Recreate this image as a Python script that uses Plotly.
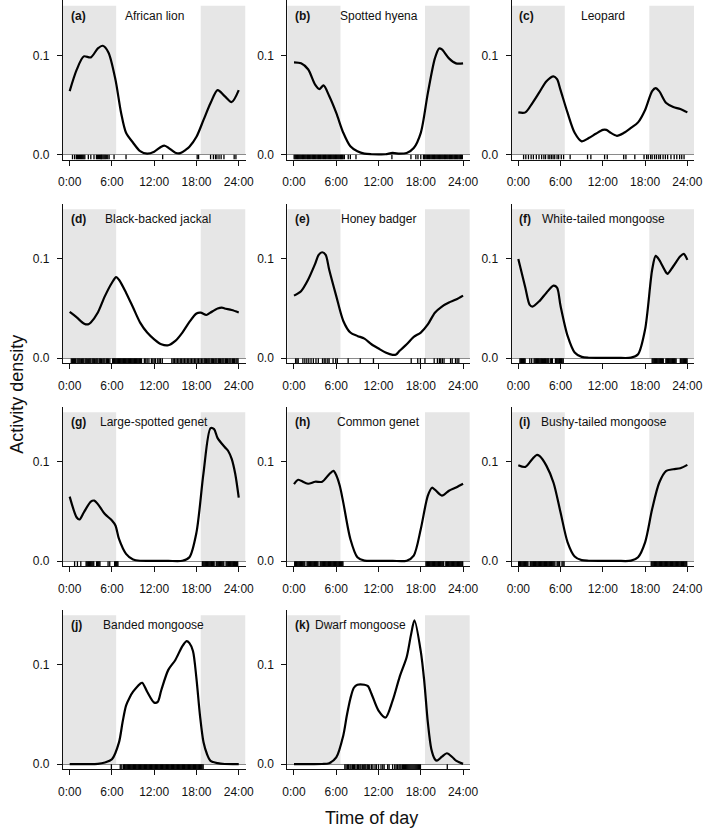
import plotly.graph_objects as go

# ---------------- data ----------------
letters = ["a", "b", "c", "d", "e", "f", "g", "h", "i", "j", "k"]
species = ["African lion", "Spotted hyena", "Leopard", "Black-backed jackal",
           "Honey badger", "White-tailed mongoose", "Large-spotted genet",
           "Common genet", "Bushy-tailed mongoose", "Banded mongoose",
           "Dwarf mongoose"]
label_pos = [12, 12, 12, 12.5, 12, 12.1, 12, 12, 12.1, 11.9, 9.45]

hour_ticks = [0, 6, 12, 18, 24]
hour_labels = ["0:00", "6:00", "12:00", "18:00", "24:00"]
y_ticks = [0, 0.1]
y_labels = ["0.0", "0.1"]
night_end = 6.6
night_start = 18.6

a_x = [0, 1, 2, 3, 4, 4.7, 5.5, 6.5, 7.3, 8, 9, 10, 11, 12, 13, 13.5, 14, 15, 15.7, 16.5, 17, 18, 19, 20, 21, 22, 23, 24]
a_y = [.064, .0856, .099, .098, .107, .1097, .103, .0755, .042, .022, .012, .0035, .001, .003, .008, .009, .007, .002, .0015, .005, .008, .018, .035, .052, .065, .059, .053, .065]

b_x = [0, 1, 2, 3, 3.6, 4.2, 5, 6, 7, 8, 9, 10, 11, 12, 13, 14, 15, 16, 17, 18, 19, 20, 20.6, 21, 22, 23, 24]
b_y = [.093, .092, .086, .0705, .066, .0698, .059, .042, .022, .0084, .0034, .001, .0004, .0003, .0004, .0017, .001, .0017, .0067, .022, .062, .097, .107, .106, .097, .092, .092]

c_x = [0, 1, 2, 3, 4, 5, 5.5, 6, 7, 8, 9, 10, 11, 12, 12.5, 13, 14, 15, 16, 17, 18, 19, 19.5, 20, 21, 22, 23, 24]
c_y = [.0426, .0426, .052, .063, .074, .0789, .076, .065, .042, .022, .0134, .0168, .021, .025, .025, .0225, .019, .022, .027, .0325, .045, .064, .067, .064, .052, .048, .046, .0426]

d_x = [0, 1, 2, 2.6, 3, 4, 5, 6, 6.6, 7, 8, 9, 10, 11, 12, 13, 14, 15, 16, 17, 18, 18.6, 19.4, 20, 21, 21.6, 22, 23, 24]
d_y = [.0465, .041, .035, .034, .036, .046, .0625, .076, .0816, .079, .066, .051, .0358, .0258, .019, .014, .013, .0174, .0258, .0365, .045, .0458, .0435, .046, .050, .051, .050, .0485, .046]

e_x = [0, 1, 2, 3, 3.5, 4, 4.5, 5, 6, 7, 8, 9, 10, 11, 12, 13, 14, 14.5, 15, 16, 17, 18, 19, 20, 21, 22, 23, 24]
e_y = [.063, .0675, .079, .095, .104, .1067, .104, .089, .0625, .0375, .0258, .0224, .0197, .014, .0097, .0057, .0033, .0037, .0074, .014, .0214, .0258, .034, .0458, .052, .056, .059, .063]

f_x = [0, 1, 1.6, 2, 3, 4, 5, 5.5, 6, 7, 8, 9, 10, 12, 14, 16, 17, 18, 19, 19.5, 20, 21, 21.2, 22, 23, 23.5, 24]
f_y = [.1, .071, .054, .052, .0575, .066, .073, .071, .0525, .0224, .0057, .0013, .0004, .0003, .0003, .0005, .004, .029, .089, .103, .099, .086, .085, .0926, .1027, .105, .099]

g_x = [0, 1, 1.4, 2, 3, 3.5, 4, 5, 6, 6.5, 7, 8, 9, 10, 12, 14, 16, 17, 18, 19, 20, 20.5, 21, 22, 22.5, 23, 23.5, 24]
g_y = [.065, .044, .042, .049, .06, .061, .0575, .0475, .041, .036, .0224, .0074, .0017, .0004, .0003, .0003, .0004, .004, .029, .089, .134, .133, .124, .115, .111, .103, .088, .064]

h_x = [0, 0.6, 1, 2, 3, 4, 5, 5.6, 6, 6.5, 7, 8, 9, 10, 12, 14, 16, 17, 18, 19, 19.6, 20, 21, 22, 23, 24]
h_y = [.0776, .082, .081, .078, .08, .08, .0876, .091, .0866, .076, .059, .0224, .004, .0006, .0003, .0003, .0005, .0057, .0324, .066, .074, .072, .066, .071, .0742, .078]

i_x = [0, 1, 2, 2.6, 3, 4, 5, 6, 7, 8, 9, 10, 12, 14, 16, 17, 18, 19, 20, 21, 22, 23, 24]
i_y = [.0967, .095, .103, .107, .106, .096, .079, .049, .019, .0047, .001, .0004, .0003, .0003, .0005, .004, .019, .0525, .079, .091, .0926, .0936, .097]

j_x = [0, 2, 4, 5, 6, 7, 7.5, 8, 8.5, 9, 10, 10.3, 11, 12, 12.5, 13, 14, 15, 16, 16.6, 17, 17.5, 18, 18.5, 19, 19.5, 20, 21, 22, 24]
j_y = [.0001, .0001, .0003, .0017, .005, .022, .042, .059, .067, .073, .081, .082, .073, .062, .0627, .0745, .095, .105, .119, .124, .122, .114, .086, .049, .022, .01, .0034, .001, .0002, .0001]

k_x = [0, 2, 4, 5, 6, 7, 7.5, 8, 8.5, 9, 10, 10.5, 11, 12, 13, 14, 15, 16, 16.6, 17.1, 18, 18.5, 19, 19.5, 20, 20.3, 21, 21.7, 22.5, 23, 24]
k_y = [.0001, .0001, .0002, .001, .0068, .029, .049, .066, .077, .08, .08, .0786, .071, .054, .047, .064, .088, .108, .13, .145, .1136, .083, .042, .015, .005, .0035, .0075, .011, .007, .0035, .0003]

a_rug = [0.4, 0.7, 0.95, 1.1, 1.25, 1.4, 1.55, 1.7, 1.85, 2.0, 2.15, 2.65, 3.0, 3.45, 3.8, 3.95, 4.1, 4.25, 4.4, 4.5, 4.6, 4.75, 4.9, 5.05, 5.2, 5.4, 5.6, 6.3, 8.0, 13.2, 18.1, 18.3, 20.0, 20.4, 20.7, 20.9, 21.2, 21.5, 21.9, 23.35, 23.6]
b_rug = [0.02, 0.14, 0.25, 0.38, 0.5, 0.61, 0.74, 0.86, 0.97, 1.1, 1.22, 1.33, 1.46, 1.58, 1.69, 1.82, 1.94, 2.05, 2.18, 2.3, 2.41, 2.54, 2.66, 2.77, 2.9, 3.02, 3.13, 3.26, 3.38, 3.49, 3.62, 3.74, 3.85, 3.98, 4.1, 4.21, 4.34, 4.46, 4.57, 4.7, 4.82, 4.93, 5.06, 5.18, 5.29, 5.42, 5.54, 5.65, 5.78, 5.9, 6.01, 6.14, 6.26, 6.37, 6.5, 6.62, 6.73, 6.86, 6.98, 7.15,
         7.7, 8.0, 8.8, 13.9, 16.6, 17.3, 17.6, 18.0,
         18.38, 18.5, 18.61, 18.74, 18.86, 18.97, 19.1, 19.22, 19.33, 19.46, 19.58, 19.69, 19.82, 19.94, 20.05, 20.18, 20.3, 20.41, 20.54, 20.66, 20.77, 20.9, 21.02, 21.13, 21.26, 21.38, 21.49, 21.62, 21.74, 21.85, 21.98, 22.1, 22.21, 22.34, 22.46, 22.57, 22.7, 22.82, 22.93, 23.06, 23.18, 23.29, 23.42, 23.54, 23.65, 23.78, 23.9]
c_rug = [0.75, 1.07, 1.44, 1.82, 2.14, 2.56, 2.94, 3.31, 3.63, 3.87, 4.24, 4.47, 4.71, 4.94, 5.17, 5.5, 5.73, 6.1, 6.43, 7.36, 9.83, 10.3, 12.25, 12.63, 14.96, 15.28, 16.54, 17.85, 18.22, 18.45, 18.78, 19.0, 19.34, 19.62, 19.94, 20.18, 20.55, 20.88, 21.2, 21.67, 22.13, 22.5, 22.9, 23.2, 23.53]
d_rug = [0.23, 0.4, 0.55, 0.7, 0.85, 1.05, 1.2, 1.35, 1.5, 1.7, 1.85, 2.0, 2.2, 2.35, 2.5, 2.7, 2.85, 3.0, 3.2, 3.35, 3.5, 3.7, 3.85, 4.0, 4.2, 4.35, 4.5, 4.7, 4.85, 5.0, 5.2, 5.35, 5.5, 5.7,
         6.1, 6.22, 6.34, 6.46, 6.58, 6.7, 6.82, 6.94, 7.06, 7.18, 7.3, 7.42, 7.54, 7.66, 7.78, 7.9, 8.02, 8.14, 8.26, 8.38, 8.5, 8.62, 8.74, 8.86, 8.98, 9.1, 9.22, 9.34, 9.46, 9.58, 9.7, 9.82, 9.94, 10.06, 10.2,
         10.6, 10.8, 11.0, 11.25, 11.6, 11.8, 12.0, 12.2, 12.5, 12.7, 12.9, 13.15,
         14.5, 14.7, 14.9, 15.1, 15.3, 15.5, 15.7, 15.9, 16.1, 16.3, 16.5, 16.7, 16.9, 17.1, 17.3, 17.5, 17.7, 17.9, 18.1, 18.3, 18.5, 18.7, 18.9, 19.1, 19.25, 19.4, 19.6, 19.75, 19.9, 20.1, 20.25, 20.4, 20.6, 20.75, 20.9, 21.1, 21.25, 21.4, 21.6, 21.75, 21.9, 22.1, 22.25, 22.4, 22.6, 22.75, 22.9, 23.1, 23.25, 23.4, 23.6, 23.75, 23.9]
e_rug = [0.23, 0.42, 0.6, 1.26, 1.54, 1.82, 2.1, 2.42, 2.75, 3.12, 3.45, 4.05, 4.29, 4.52, 4.8, 4.99, 5.55, 5.92, 6.15, 7.69, 9.41, 11.28, 16.64, 17.57, 17.94, 18.59, 19.9, 20.36, 20.64, 20.83, 21.06, 21.3, 22.23, 22.46, 22.93, 23.16, 23.4]
f_rug = [0.23, 0.35, 0.47, 0.6, 0.72, 0.85, 0.97, 1.63, 1.9, 2.24, 2.36, 2.48, 2.6, 2.72, 2.84, 2.96, 3.08, 3.2, 3.32, 3.44, 3.6, 3.72, 3.84, 3.96, 4.1, 4.22, 4.34, 4.6, 4.72, 4.84, 5.27, 5.39, 5.51, 5.63, 5.75, 5.87, 5.99, 6.11, 6.23, 6.38,
         19.0, 19.12, 19.24, 19.36, 19.48, 19.6, 19.72, 19.84, 19.96, 20.08, 20.2, 20.32, 20.45, 20.58, 20.95, 21.07, 21.19, 21.31, 21.43, 21.55, 21.67, 21.79, 21.91, 22.03, 22.15, 22.27, 22.4, 23.0, 23.12, 23.24, 23.36, 23.48, 23.6, 23.72, 23.84, 23.96]
g_rug = [0.7, 1.1, 1.58, 2.33, 2.45, 2.57, 2.69, 2.81, 2.93, 3.05, 3.17, 3.3, 3.42, 3.82, 3.94, 4.06, 4.18, 4.3, 5.45, 5.69, 6.38, 6.5, 6.62, 6.74, 6.85,
         18.83, 18.95, 19.07, 19.19, 19.31, 19.43, 19.55, 19.67, 19.79, 19.91, 20.03, 20.15, 20.27, 20.39, 20.51, 20.8, 20.92, 21.04, 21.16, 21.28, 21.4, 21.52, 21.64, 21.76, 21.88, 22.2, 22.32, 22.44, 22.56, 22.68, 22.8, 22.92, 23.04, 23.16, 23.28, 23.4, 23.52, 23.7, 23.85]
h_rug = [0.1, 0.22, 0.34, 0.46, 0.58, 0.7, 0.82, 0.94, 1.06, 1.18, 1.3, 1.42, 1.54, 1.85, 1.97, 2.09, 2.21, 2.33, 2.45, 2.57, 2.69, 2.81, 2.93, 3.05, 3.17, 3.29, 3.41, 3.72, 3.84, 3.96, 4.08, 4.2, 4.32, 4.44, 4.56, 4.68, 4.8, 4.92, 5.04, 5.16, 5.28, 5.4, 5.52, 5.64, 5.76, 5.88, 6.0, 6.12, 6.24, 6.36, 6.48, 6.6, 6.72, 6.84, 6.95,
         18.73, 18.85, 18.97, 19.09, 19.21, 19.33, 19.45, 19.57, 19.69, 19.81, 19.93, 20.05, 20.17, 20.29, 20.41, 20.53, 20.65, 20.77, 20.89, 21.01, 21.13, 21.25, 21.55, 21.67, 21.79, 21.91, 22.03, 22.15, 22.27, 22.39, 22.51, 22.63, 22.75, 22.87, 22.99, 23.11, 23.23, 23.35, 23.47, 23.59, 23.71, 23.83, 23.95]
i_rug = [0.05, 0.17, 0.29, 0.41, 0.53, 0.65, 0.77, 0.89, 1.01, 1.13, 1.25, 1.37, 1.7, 1.82, 1.94, 2.06, 2.18, 2.3, 2.42, 2.54, 2.66, 2.78, 2.9, 3.02, 3.14, 3.26, 3.38, 3.5, 3.62, 3.74, 3.86, 3.98, 4.1, 4.22, 4.34, 4.46, 4.58, 4.7, 4.82, 4.94, 5.06, 5.2, 5.5, 5.62, 5.75, 5.87, 6.2, 6.35, 6.5,
         18.87, 18.99, 19.11, 19.23, 19.35, 19.47, 19.59, 19.71, 19.83, 19.95, 20.07, 20.19, 20.31, 20.43, 20.55, 20.67, 20.79, 20.91, 21.03, 21.15, 21.27, 21.39, 21.51, 21.63, 21.75, 21.87, 21.99, 22.11, 22.23, 22.35, 22.47, 22.59, 22.71, 22.83, 22.95, 23.07, 23.19, 23.31, 23.43, 23.55, 23.67, 23.79, 23.91]
j_rug = [5.92, 7.18, 7.4, 7.64, 7.76, 7.88, 8.0, 8.12, 8.24, 8.36, 8.48, 8.6, 8.72, 8.84, 8.96, 9.08, 9.2, 9.32, 9.44, 9.56, 9.68, 9.8, 9.92, 10.04, 10.16, 10.28, 10.4, 10.52, 10.64, 10.76, 10.88, 11.0, 11.12, 11.24, 11.36, 11.48, 11.6, 11.72, 11.84, 11.96, 12.08, 12.2, 12.32, 12.44, 12.56, 12.68, 12.8, 12.92, 13.04, 13.16, 13.28, 13.4, 13.52, 13.64, 13.76, 13.88, 14.0, 14.12, 14.24, 14.36, 14.48, 14.6, 14.72, 14.84, 14.96, 15.08, 15.2, 15.32, 15.44, 15.56, 15.68, 15.8, 15.92, 16.04, 16.16, 16.28, 16.4, 16.52, 16.64, 16.76, 16.88, 17.0, 17.12, 17.24, 17.36, 17.48, 17.6, 17.72, 17.84, 17.96, 18.08, 18.2, 18.32, 18.44, 18.56, 18.68, 18.8, 18.95]
k_rug = [7.22, 7.4, 7.6, 7.75, 7.95, 8.1, 8.3, 8.45, 8.6, 8.8, 9.0, 9.15, 9.35, 9.5, 9.7, 9.9, 10.05, 10.2, 10.4, 10.55, 10.75, 11.0, 11.2, 11.5, 11.7, 12.0, 12.35, 12.6, 12.8, 13.3, 13.5, 14.0, 14.3, 14.5, 14.7, 14.9, 15.05, 15.2, 15.4, 15.55, 15.7, 15.85, 16.0, 16.15, 16.3, 16.45, 16.6, 16.75, 16.9, 17.05, 17.2, 17.35, 17.5, 17.65, 17.8, 17.95, 21.76]

curves_x = [a_x, b_x, c_x, d_x, e_x, f_x, g_x, h_x, i_x, j_x, k_x]
curves_y = [a_y, b_y, c_y, d_y, e_y, f_y, g_y, h_y, i_y, j_y, k_y]
rugs = [a_rug, b_rug, c_rug, d_rug, e_rug, f_rug, g_rug, h_rug, i_rug, j_rug, k_rug]

# ---------------- layout ----------------
W, H = 709, 830
XR = [-0.96, 24.96]
YR = [-0.005, 0.1558]
col_left = [59, 287.5, 516]
row_top = [0, 204, 407.5, 611]
pw, ph = 186, 160
FONT = "Liberation Sans, Arial, sans-serif"

fig = go.Figure()
layout = dict(
    width=W, height=H, margin=dict(l=0, r=0, t=0, b=0),
    paper_bgcolor="white", plot_bgcolor="rgba(0,0,0,0)",
    showlegend=False, font=dict(family=FONT, size=12, color="#111"),
    shapes=[], annotations=[],
)

for idx in range(11):
    r, c = divmod(idx, 3)
    n = "" if idx == 0 else str(idx + 1)
    xa, ya = "x" + n, "y" + n
    x0 = col_left[c] / W
    x1 = (col_left[c] + pw) / W
    y1 = 1 - row_top[r] / H
    y0 = 1 - (row_top[r] + ph) / H
    layout["xaxis" + n] = dict(
        domain=[x0, x1], range=XR, anchor=ya, showgrid=False, zeroline=False,
        showline=True, linecolor="#111", linewidth=1,
        tickmode="array", tickvals=hour_ticks, ticktext=hour_labels,
        ticks="outside", ticklen=5, tickwidth=1, tickcolor="#111",
        ticklabelstandoff=6, tickfont=dict(family=FONT, size=12, color="#111"),
        fixedrange=True,
    )
    layout["yaxis" + n] = dict(
        domain=[y0, y1], range=YR, anchor=xa, showgrid=False,
        zeroline=True, zerolinecolor="#8a8a8a", zerolinewidth=1,
        showline=True, linecolor="#111", linewidth=1,
        tickmode="array", tickvals=y_ticks, ticktext=y_labels,
        ticks="outside", ticklen=5, tickwidth=1, tickcolor="#111",
        ticklabelstandoff=5, tickfont=dict(family=FONT, size=12, color="#111"),
        fixedrange=True,
    )
    # night shading
    for sx0, sx1 in [(XR[0], night_end), (night_start, XR[1])]:
        layout["shapes"].append(dict(
            type="rect", xref=xa, yref=ya, x0=sx0, x1=sx1, y0=0, y1=0.15,
            fillcolor="#e6e6e6", line=dict(width=0), layer="below"))
    # rug
    rx, ry = [], []
    for t in rugs[idx]:
        rx += [t, t, None]
        ry += [0, YR[0], None]
    fig.add_trace(go.Scatter(x=rx, y=ry, mode="lines", xaxis=xa, yaxis=ya,
                             line=dict(color="black", width=1.3), hoverinfo="skip"))
    # density curve
    fig.add_trace(go.Scatter(x=curves_x[idx], y=curves_y[idx], mode="lines",
                             xaxis=xa, yaxis=ya, line=dict(color="black", width=2.2,
                                                           shape="spline", smoothing=0.8),
                             hoverinfo="skip"))
    layout["annotations"].append(dict(
        xref=xa, yref=ya, x=-0.15, y=0.14, text="<b>(" + letters[idx] + ")</b>",
        showarrow=False, xanchor="left", yanchor="middle",
        font=dict(family=FONT, size=12, color="#111")))
    layout["annotations"].append(dict(
        xref=xa, yref=ya, x=label_pos[idx], y=0.14, text=species[idx],
        showarrow=False, xanchor="center", yanchor="middle",
        font=dict(family=FONT, size=12, color="#111")))

layout["annotations"].append(dict(
    xref="paper", yref="paper", x=373.8 / W, y=1 - 820 / H, text="Time of day",
    showarrow=False, xanchor="center", yanchor="middle",
    font=dict(family=FONT, size=18, color="#111")))
layout["annotations"].append(dict(
    xref="paper", yref="paper", x=12 / W, y=1 - 395 / H, text="Activity density",
    showarrow=False, xanchor="center", yanchor="middle", textangle=-90,
    font=dict(family=FONT, size=18, color="#111")))

fig.update_layout(**layout)
fig.write_html("out.html",
               config={"displayModeBar": False, "staticPlot": True},
               post_script="document.body.style.margin='0px';document.body.style.overflow='hidden';")
